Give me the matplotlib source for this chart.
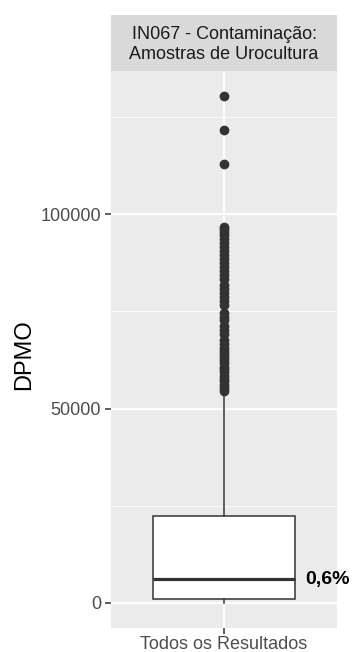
import matplotlib
matplotlib.use('Agg')
import matplotlib.pyplot as plt
from matplotlib import ticker

plt.rcParams['font.family'] = ['Liberation Sans', 'DejaVu Sans']

# Box summary for DPMO (IN067)
indicador = 'IN067 - Contaminação:\nAmostras de Urocultura'
categoria = 'Todos os Resultados'
q1 = 1000
mediana = 6000
q3 = 22200
whisker_low = 0
whisker_high = 53800
outliers = [130400, 121650, 112900,
            96650, 96130, 95360, 94590, 93560, 92530, 91500, 90460, 89430,
            88400, 87370, 86340, 85310, 84280, 83250, 81700, 80670, 79640,
            78610, 77580, 76550, 74480, 73450, 72680, 71130, 70100, 69070,
            67520, 66500, 65460, 64690, 63920, 63140, 62370, 61600, 60820,
            60050, 59280, 58500, 57730, 56960, 56180, 55410, 54600]

y_breaks = [0, 50000, 100000]
y_minor = [25000, 75000, 125000]

fig = plt.figure(figsize=(3.52, 6.52), dpi=100)
W, H = 352, 652
ax = fig.add_axes([111 / W, 1 - 628 / H, 226 / W, 557 / H])
ax.set_facecolor('#EBEBEB')
for s in ax.spines.values():
    s.set_visible(False)

stats = [dict(med=mediana, q1=q1, q3=q3, whislo=whisker_low, whishi=whisker_high,
              fliers=outliers, label=categoria)]
ax.bxp(stats, positions=[1], widths=0.75, patch_artist=True, showcaps=False,
       boxprops=dict(facecolor='white', edgecolor='#333333', linewidth=1.1),
       whiskerprops=dict(color='#333333', linewidth=1.1),
       medianprops=dict(color='#333333', linewidth=2.3),
       flierprops=dict(marker='o', markersize=6, markerfacecolor='#333333',
                       markeredgecolor='#333333', linestyle='none'),
       zorder=3)

# ggplot-style 5% expansion on the continuous axis
lo = min(whisker_low, min(outliers))
hi = max(whisker_high, max(outliers))
rng = hi - lo
ax.set_ylim(lo - 0.05 * rng, hi + 0.05 * rng)
ax.set_xlim(0.4, 1.6)

ax.set_yticks(y_breaks)
ax.set_yticks(y_minor, minor=True)
ax.yaxis.set_major_formatter(ticker.FuncFormatter(lambda v, p: f'{int(v)}'))
ax.set_xticks([1])
ax.set_xticklabels([categoria])
ax.grid(True, which='major', color='white', linewidth=1.3, zorder=0)
ax.grid(True, which='minor', axis='y', color='white', linewidth=0.6, zorder=0)
ax.set_axisbelow(True)
ax.tick_params(axis='both', which='major', length=4, width=1.1, color='#333333',
               labelsize=13, labelcolor='#4D4D4D', pad=3)
ax.tick_params(axis='x', which='major', pad=2)
ax.tick_params(axis='y', which='minor', length=0)

# median label
pct = f'{mediana / 10000:.1f}%'.replace('.', ',')
ax.annotate(pct, xy=(1.375, mediana), xytext=(8, 0), textcoords='offset points',
            ha='left', va='center', fontsize=14, fontweight='bold', color='black')

# facet strip
strip = fig.add_axes([111 / W, 1 - 71 / H, 226 / W, 56 / H])
strip.set_facecolor('#D9D9D9')
strip.set_xticks([])
strip.set_yticks([])
for s in strip.spines.values():
    s.set_visible(False)
strip.text(0.5, 0.47, indicador, ha='center', va='center', fontsize=13,
           color='#1A1A1A', linespacing=1.2, transform=strip.transAxes)

fig.text(24 / W, 1 - 355 / H, 'DPMO', rotation=90, ha='center', va='center',
         fontsize=17, color='black')

fig.savefig('out.png', dpi=100)
